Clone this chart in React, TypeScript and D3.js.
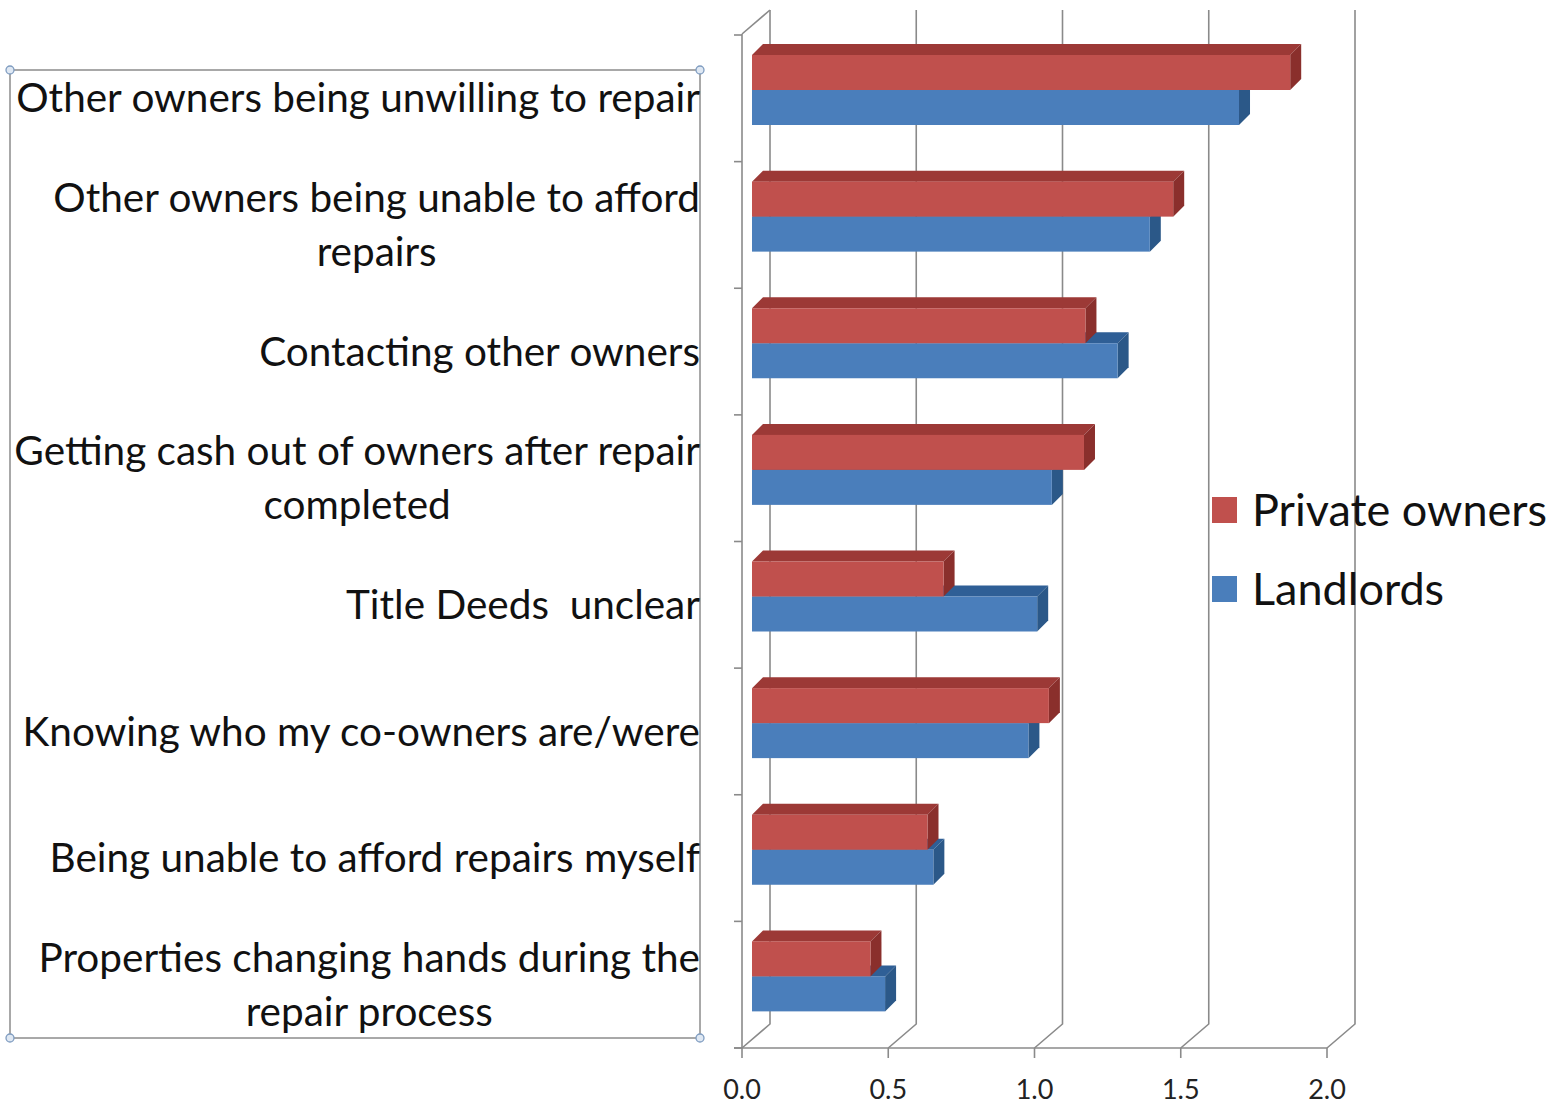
import React, { useEffect, useRef } from "react";
import * as d3 from "d3";

const categories: string[][] = [
  ["Other owners being unwilling to repair"],
  ["Other owners being unable to afford", "repairs"],
  ["Contacting other owners"],
  ["Getting cash out of owners after repair", "completed"],
  ["Title Deeds  unclear"],
  ["Knowing who my co-owners are/were"],
  ["Being unable to afford repairs myself"],
  ["Properties changing hands during the", "repair process"],
];
const privateOwners = [1.84, 1.44, 1.14, 1.135, 0.655, 1.015, 0.6, 0.405];
const landlords = [1.665, 1.36, 1.25, 1.025, 0.975, 0.945, 0.62, 0.455];
const xTicks = [0, 0.5, 1, 1.5, 2];
const seriesNames = ["Private owners", "Landlords"];

const FONT = "Lato, 'Open Sans', sans-serif";

export default function App() {
  const ref = useRef<SVGSVGElement>(null);
  useEffect(() => {
    const svg = d3.select(ref.current);
    svg.selectAll("*").remove();

    const x = d3.scaleLinear().domain([0, 2]).range([742, 1327]);
    const idx = categories.map((_, i) => i);
    const y = d3.scaleBand<number>().domain(idx).range([35, 1048]).paddingInner(0);
    const DX = 28, DY = -24; // wall depth
    const bdx = 11, bdy = -11; // bar depth
    const floorY = 1048;
    const gridCol = "#8a8a8a";

    const g = svg.append("g");
    xTicks.forEach((t) => {
      const xf = x(t);
      g.append("path")
        .attr("d", `M${xf + DX},10 L${xf + DX},${floorY + DY} L${xf},${floorY}`)
        .attr("fill", "none")
        .attr("stroke", gridCol)
        .attr("stroke-width", 1.6);
    });
    g.append("path")
      .attr("d", `M${x(0)},${35 - 1} L${x(0) + DX},10`)
      .attr("fill", "none")
      .attr("stroke", gridCol)
      .attr("stroke-width", 1.6);
    g.append("line")
      .attr("x1", x(0)).attr("x2", x(0))
      .attr("y1", 34).attr("y2", floorY)
      .attr("stroke", gridCol).attr("stroke-width", 1.6);
    g.append("line")
      .attr("x1", x(0) - 8).attr("x2", x(2))
      .attr("y1", floorY).attr("y2", floorY)
      .attr("stroke", gridCol).attr("stroke-width", 1.6);
    d3.range(categories.length + 1).forEach((i) => {
      const yy = 35 + (i * (1048 - 35)) / categories.length;
      g.append("line")
        .attr("x1", x(0) - 8).attr("x2", x(0))
        .attr("y1", yy).attr("y2", yy)
        .attr("stroke", gridCol).attr("stroke-width", 1.6);
    });
    xTicks.forEach((t) => {
      g.append("line")
        .attr("x1", x(t)).attr("x2", x(t))
        .attr("y1", floorY).attr("y2", floorY + 10)
        .attr("stroke", gridCol).attr("stroke-width", 1.6);
      g.append("text")
        .attr("x", x(t))
        .attr("y", 1099)
        .attr("text-anchor", "middle")
        .attr("font-family", FONT)
        .attr("font-size", 27)
        .attr("fill", "#222")
        .text(t.toFixed(1));
    });

    const x0 = (v: number) => x(v) + 10;
    const barH = 35;
    const drawBar = (v: number, top: number, front: string, topC: string, side: string) => {
      const xa = x0(0), xb = x0(v);
      const bot = top + barH;
      const bg = svg.append("g");
      bg.append("path")
        .attr("d", `M${xa},${top} L${xa + bdx},${top + bdy} L${xb + bdx},${top + bdy} L${xb},${top} Z`)
        .attr("fill", topC);
      bg.append("path")
        .attr("d", `M${xb},${top} L${xb + bdx},${top + bdy} L${xb + bdx},${bot + bdy} L${xb},${bot} Z`)
        .attr("fill", side);
      bg.append("rect")
        .attr("x", xa).attr("y", top)
        .attr("width", xb - xa).attr("height", barH)
        .attr("fill", front);
    };
    idx.forEach((i) => {
      const b = y(i)!;
      drawBar(landlords[i], b + 55, "#4A7EBB", "#2F5F96", "#2B5888");
      drawBar(privateOwners[i], b + 20, "#C0504D", "#9C3936", "#8A2F2C");
    });

    svg.append("rect")
      .attr("x", 10).attr("y", 70).attr("width", 690).attr("height", 968)
      .attr("fill", "none").attr("stroke", "#8c8c8c").attr("stroke-width", 1.5);
    [[10, 70], [700, 70], [10, 1038], [700, 1038]].forEach(([cx, cy]) => {
      svg.append("circle")
        .attr("cx", cx).attr("cy", cy).attr("r", 4)
        .attr("fill", "#dfe8f3").attr("stroke", "#7f9cc0").attr("stroke-width", 1.3);
    });

    const labelSize = 40.5;
    const lineGap = 54;
    categories.forEach((lines, i) => {
      const cy = y(i)! + y.bandwidth() / 2;
      const n = lines.length;
      const first = svg.append("text")
        .attr("x", 700)
        .attr("y", cy - ((n - 1) * lineGap) / 2)
        .attr("dy", "0.35em")
        .attr("text-anchor", "end")
        .attr("font-family", FONT)
        .attr("font-size", labelSize)
        .attr("fill", "#111")
        .style("white-space", "pre")
        .text(lines[0]);
      const w = (first.node() as SVGTextElement).getComputedTextLength();
      for (let k = 1; k < n; k++) {
        svg.append("text")
          .attr("x", 700 - w / 2)
          .attr("y", cy - ((n - 1) * lineGap) / 2 + k * lineGap)
          .attr("dy", "0.35em")
          .attr("text-anchor", "middle")
          .attr("font-family", FONT)
          .attr("font-size", labelSize)
          .attr("fill", "#111")
          .style("white-space", "pre")
          .text(lines[k]);
      }
    });

    const legCols = ["#C0504D", "#4A7EBB"];
    seriesNames.forEach((s, i) => {
      const ly = 497 + i * 79;
      svg.append("rect")
        .attr("x", 1212).attr("y", ly).attr("width", 25).attr("height", 26)
        .attr("fill", legCols[i]);
      svg.append("text")
        .attr("x", 1252).attr("y", ly + 13)
        .attr("dy", "0.35em")
        .attr("font-family", FONT)
        .attr("font-size", 45)
        .attr("fill", "#111")
        .text(s);
    });
  }, []);

  return (
    <svg
      ref={ref}
      width={1560}
      height={1105}
      style={{ position: "absolute", left: 0, top: 0, background: "#fff" }}
    />
  );
}
